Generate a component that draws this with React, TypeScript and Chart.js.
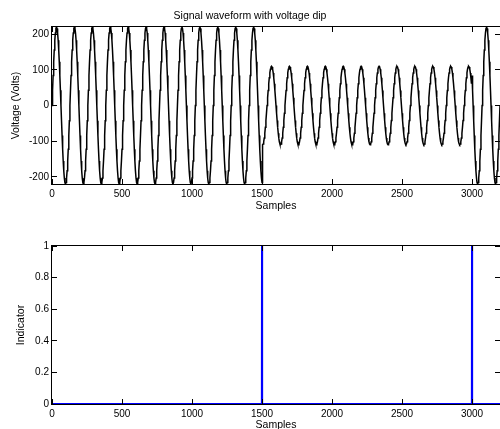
import React, { useEffect, useRef } from "react";
import { Chart, registerables } from "chart.js";

Chart.register(...registerables);

// ---- Data ----
// One 128-sample cycle of the waveform, read every 4 samples (normalised to peak = 1)
const CYCLE_SHAPE = [
  0, 0.195, 0.383, 0.556, 0.707, 0.831, 0.924, 0.981,
  1, 0.981, 0.924, 0.831, 0.707, 0.556, 0.383, 0.195,
  0, -0.195, -0.383, -0.556, -0.707, -0.831, -0.924, -0.981,
  -1, -0.981, -0.924, -0.831, -0.707, -0.556, -0.383, -0.195,
];
const CYCLE_SAMPLES = 128;
const SAMPLE_STEP = 4;
// Three segments: normal, voltage dip, normal
const SEGMENT_FIRST = [0, 1504, 3000];
const SEGMENT_LAST = [1500, 2996, 3200];
const SEGMENT_AMPLITUDE = [220, 110, 220];

// Indicator: zero except at the dip start / end
const INDICATOR_SAMPLES = [0, 1499, 1500, 1501, 2999, 3000, 3001, 3200];
const INDICATOR_VALUES = [0, 0, 1, 0, 0, 1, 0, 0];

// Axis ranges / ticks
const X_RANGE = [0, 3200];
const X_TICKS = [0, 500, 1000, 1500, 2000, 2500, 3000];
const VOLT_RANGE = [-220, 220];
const VOLT_TICKS = [-200, -100, 0, 100, 200];
const IND_RANGE = [0, 1];
const IND_TICKS = [0, 0.2, 0.4, 0.6, 0.8, 1];

const TITLE_TOP = "Signal waveform with voltage dip";
const X_LABEL = "Samples";
const Y_LABEL_TOP = "Voltage (Volts)";
const Y_LABEL_BOTTOM = "Indicator";

const FONT = "'Liberation Sans', Arial, Helvetica, sans-serif";

function buildWaveform() {
  const pts: { x: number; y: number }[] = [];
  for (let s = 0; s < SEGMENT_FIRST.length; s++) {
    for (let n = SEGMENT_FIRST[s]; n <= SEGMENT_LAST[s]; n += SAMPLE_STEP) {
      const idx = ((n % CYCLE_SAMPLES) / SAMPLE_STEP) | 0;
      pts.push({ x: n, y: SEGMENT_AMPLITUDE[s] * CYCLE_SHAPE[idx] });
    }
  }
  return pts;
}

const matlabBox = {
  id: "matlabBox",
  afterDatasetsDraw(chart: any) {
    const { ctx, chartArea, scales } = chart;
    const { left, right, top, bottom } = chartArea;
    const TL = 5;
    ctx.save();
    ctx.strokeStyle = "#000";
    ctx.lineWidth = 1;
    ctx.strokeRect(left - 0.5, top - 0.5, right - left + 1, bottom - top + 1);
    ctx.beginPath();
    for (const t of scales.x.ticks) {
      const px = Math.floor(scales.x.getPixelForValue(t.value)) + 0.5;
      ctx.moveTo(px, bottom);
      ctx.lineTo(px, bottom - TL);
      ctx.moveTo(px, top);
      ctx.lineTo(px, top + TL);
    }
    for (const t of scales.y.ticks) {
      const py = Math.floor(scales.y.getPixelForValue(t.value)) + 0.5;
      ctx.moveTo(left, py);
      ctx.lineTo(left + TL, py);
      ctx.moveTo(right, py);
      ctx.lineTo(right - TL, py);
    }
    ctx.stroke();
    ctx.restore();
  },
};

const fmt = (v: any) => String(Math.round(Number(v) * 1000) / 1000);

function makeOptions(cfg: {
  yMin: number;
  yMax: number;
  yTicks: number[];
  yLabel: string;
  yLabelPad: number;
  xAxisHeight: number;
  xTitlePadBottom: number;
  padTop: number;
  title?: string;
}) {
  return {
    responsive: false,
    animation: false as const,
    layout: { padding: { top: cfg.padTop, left: 0, right: 0, bottom: 0 } },
    plugins: {
      legend: { display: false },
      tooltip: { enabled: false },
      title: cfg.title
        ? {
            display: true,
            text: cfg.title,
            color: "#000",
            font: { family: FONT, size: 10.5, weight: "normal" as const, lineHeight: 1.2 },
            padding: { top: 9.5, bottom: 4.9 },
          }
        : { display: false },
    },
    elements: { point: { radius: 0 } },
    scales: {
      x: {
        type: "linear" as const,
        min: X_RANGE[0],
        max: X_RANGE[1],
        grid: { display: false, drawTicks: false },
        border: { display: false },
        afterBuildTicks: (s: any) => {
          s.ticks = X_TICKS.map((v) => ({ value: v }));
        },
        ticks: {
          autoSkip: false,
          maxRotation: 0,
          color: "#000",
          padding: 4,
          font: { family: FONT, size: 10 },
          callback: fmt,
        },
        title: {
          display: true,
          text: X_LABEL,
          color: "#000",
          font: { family: FONT, size: 10.5, lineHeight: 1.2 },
          padding: { top: 0, bottom: cfg.xTitlePadBottom },
        },
        afterFit: (s: any) => {
          s.height = cfg.xAxisHeight;
        },
      },
      y: {
        type: "linear" as const,
        min: cfg.yMin,
        max: cfg.yMax,
        grid: { display: false, drawTicks: false },
        border: { display: false },
        afterBuildTicks: (s: any) => {
          s.ticks = cfg.yTicks.map((v) => ({ value: v }));
        },
        ticks: {
          autoSkip: false,
          color: "#000",
          padding: 3,
          font: { family: FONT, size: 10 },
          callback: fmt,
        },
        title: {
          display: true,
          text: cfg.yLabel,
          color: "#000",
          font: { family: FONT, size: 10.5, lineHeight: 1.2 },
          padding: { top: cfg.yLabelPad, bottom: 0 },
        },
        afterFit: (s: any) => {
          s.width = 52;
        },
      },
    },
  };
}

export default function App() {
  const topRef = useRef<HTMLCanvasElement>(null);
  const botRef = useRef<HTMLCanvasElement>(null);

  useEffect(() => {
    const top = new Chart(topRef.current!, {
      type: "line",
      data: {
        datasets: [
          {
            data: buildWaveform(),
            borderColor: "#000",
            borderWidth: 1.5,
            pointRadius: 0,
            tension: 0,
          },
        ],
      },
      options: makeOptions({
        yMin: VOLT_RANGE[0],
        yMax: VOLT_RANGE[1],
        yTicks: VOLT_TICKS,
        yLabel: Y_LABEL_TOP,
        yLabelPad: 10,
        xAxisHeight: 31,
        xTitlePadBottom: 3,
        padTop: 0,
        title: TITLE_TOP,
      }) as any,
      plugins: [matlabBox],
    });

    const bot = new Chart(botRef.current!, {
      type: "line",
      data: {
        datasets: [
          {
            data: INDICATOR_SAMPLES.map((x, i) => ({ x, y: INDICATOR_VALUES[i] })),
            borderColor: "#0000ff",
            borderWidth: 2,
            pointRadius: 0,
            tension: 0,
          },
        ],
      },
      options: makeOptions({
        yMin: IND_RANGE[0],
        yMax: IND_RANGE[1],
        yTicks: IND_TICKS,
        yLabel: Y_LABEL_BOTTOM,
        yLabelPad: 15,
        xAxisHeight: 33,
        xTitlePadBottom: 5.7,
        padTop: 31,
      }) as any,
      plugins: [matlabBox],
    });

    return () => {
      top.destroy();
      bot.destroy();
    };
  }, []);

  return (
    <div
      style={{
        position: "fixed",
        left: 0,
        top: 0,
        width: 500,
        height: 429,
        overflow: "hidden",
        background: "#fff",
      }}
    >
      <canvas
        ref={topRef}
        width={500}
        height={215}
        style={{ position: "absolute", left: 0, top: 0, width: 500, height: 215 }}
      />
      <canvas
        ref={botRef}
        width={500}
        height={222}
        style={{ position: "absolute", left: 0, top: 215, width: 500, height: 222 }}
      />
    </div>
  );
}
